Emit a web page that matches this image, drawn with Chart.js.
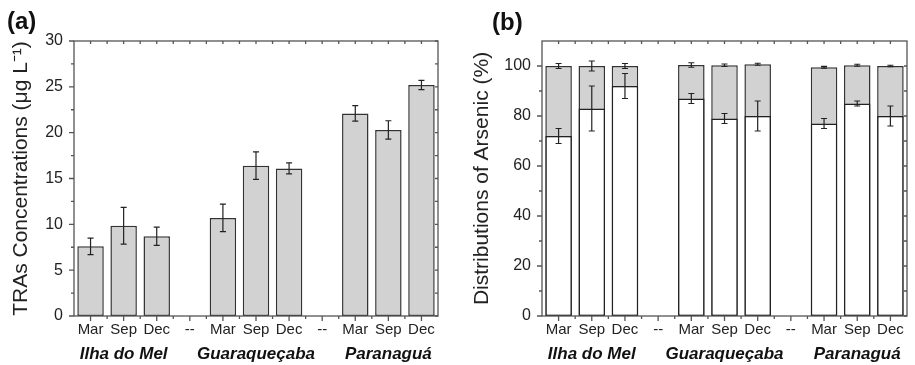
<!DOCTYPE html>
<html><head><meta charset="utf-8">
<script src="https://cdn.jsdelivr.net/npm/chart.js@4"></script>
<style>
html,body{margin:0;padding:0;background:#fff;}
#wrap{position:relative;width:915px;height:365px;overflow:hidden;}
#ca{position:absolute;left:0;top:0;}
#cb{position:absolute;left:455px;top:0;}
</style></head><body>
<div id="wrap"><canvas id="ca" width="455" height="365"></canvas><canvas id="cb" width="460" height="365"></canvas></div>
<script>
// ---- data ----
const months = ['Mar','Sep','Dec','--','Mar','Sep','Dec','--','Mar','Sep','Dec'];
const siteLabels = ['', 'Ilha do Mel', '', '', '', 'Guaraqueçaba', '', '', '', 'Paranaguá', ''];
// panel (a): TRAs concentrations (µg/L) and error
const traValues = [7.6, 9.85, 8.7, null, 10.7, 16.4, 16.1, null, 22.1, 20.3, 25.2];
const traErrors = [0.9, 2.0, 1.0, null, 1.5, 1.5, 0.6, null, 0.85, 1.0, 0.5];
// panel (b): distributions of arsenic (%)
const lowerPct = [72, 83, 92, null, 87, 79, 80, null, 77, 85, 80];
const lowerErr = [3, 9, 5, null, 2, 2, 6, null, 2, 1, 4];
const totalPct = [100, 100, 100, null, 100.4, 100.3, 100.7, null, 99.5, 100.3, 100];
const totalErr = [1, 2, 1, null, 0.9, 0.5, 0.4, null, 0.35, 0.4, 0.3];
const yTitleA = 'TRAs Concentrations (μg L⁻¹)';
const yTitleB = 'Distributions of Arsenic (%)';

const FONT = "'Liberation Sans', Arial, Helvetica, sans-serif";
Chart.defaults.font.family = FONT;
Chart.defaults.color = '#222';

const framePlugin = {
  id: 'frame',
  afterDatasetsDraw(chart) {
    const {ctx, chartArea: a, scales} = chart;
    const x = scales.x, y = scales.y;
    ctx.save();
    ctx.strokeStyle = '#555';
    ctx.lineWidth = 1.3;
    ctx.strokeRect(a.left, a.top, a.right - a.left, a.bottom - a.top);
    ctx.beginPath();
    const majors = y.ticks.map(t => t.value);
    const step = majors[1] - majors[0];
    majors.forEach(v => {
      const py = y.getPixelForValue(v);
      ctx.moveTo(a.left - 5, py); ctx.lineTo(a.left, py);
      ctx.moveTo(a.right, py); ctx.lineTo(a.right - 3, py);
      const m = v + step / 2;
      if (m < y.max - 1e-9) {
        const pm = y.getPixelForValue(m);
        ctx.moveTo(a.left - 3, pm); ctx.lineTo(a.left, pm);
        ctx.moveTo(a.right, pm); ctx.lineTo(a.right - 3, pm);
      }
    });
    for (let i = 0; i < months.length; i++) {
      const pc = x.getPixelForValue(i);
      ctx.moveTo(pc, a.bottom); ctx.lineTo(pc, a.bottom + 5);
      ctx.moveTo(pc, a.top); ctx.lineTo(pc, a.top + 3);
      if (i > 0) {
        const pb = x.getPixelForValue(i - 0.5);
        ctx.moveTo(pb, a.bottom); ctx.lineTo(pb, a.bottom + 3);
        ctx.moveTo(pb, a.top); ctx.lineTo(pb, a.top + 3);
      }
    }
    ctx.stroke();
    ctx.restore();
  }
};

const errorPlugin = {
  id: 'errbars',
  afterDatasetsDraw(chart) {
    const {ctx} = chart;
    const y = chart.scales.y;
    ctx.save();
    ctx.strokeStyle = '#222';
    ctx.lineWidth = 1.2;
    chart.data.datasets.forEach((ds, di) => {
      if (!ds.errors) return;
      const meta = chart.getDatasetMeta(di);
      meta.data.forEach((bar, i) => {
        const v = ds.data[i], e = ds.errors[i];
        if (v == null || e == null) return;
        const xp = bar.x;
        const t = y.getPixelForValue(v + e), b = y.getPixelForValue(v - e);
        ctx.beginPath();
        ctx.moveTo(xp, t); ctx.lineTo(xp, b);
        ctx.moveTo(xp - 3, t); ctx.lineTo(xp + 3, t);
        ctx.moveTo(xp - 3, b); ctx.lineTo(xp + 3, b);
        ctx.stroke();
      });
    });
    ctx.restore();
  }
};

function panelLabel(text, px, py) {
  return {
    id: 'panelLabel',
    afterDraw(chart) {
      const ctx = chart.ctx;
      ctx.save();
      ctx.font = 'bold 24px ' + FONT;
      ctx.fillStyle = '#111';
      ctx.textBaseline = 'alphabetic';
      ctx.fillText(text, px, py);
      ctx.restore();
    }
  };
}

function xScales(stacked) {
  return {
    x: {
      type: 'category', axis: 'x', labels: months, offset: true, stacked: stacked,
      grid: {display: false, drawTicks: false}, border: {display: false},
      ticks: {autoSkip: false, maxRotation: 0, minRotation: 0, font: {size: 15}, color: '#222', padding: 5},
      afterFit(s) { s.height = 24; }
    },
    x2: {
      type: 'category', axis: 'x', position: 'bottom', labels: siteLabels, offset: true,
      grid: {display: false, drawTicks: false}, border: {display: false},
      ticks: {autoSkip: false, maxRotation: 0, minRotation: 0, font: {size: 17, weight: 'bold', style: 'italic'}, color: '#111', padding: 4},
      afterFit(s) { s.height = 25; }
    }
  };
}

const common = {
  responsive: false,
  animation: false,
  devicePixelRatio: 1,
  plugins: {legend: {display: false}, tooltip: {enabled: false}, title: {display: false}},
};

new Chart(document.getElementById('ca'), {
  type: 'bar',
  data: {
    labels: months,
    datasets: [{
      data: traValues, errors: traErrors, xAxisID: 'x', yAxisID: 'y',
      backgroundColor: '#d2d2d2', borderColor: '#333', borderWidth: 1.5, borderSkipped: false,
      barPercentage: 0.8, categoryPercentage: 1.0
    }]
  },
  options: Object.assign({}, common, {
    layout: {padding: {left: 0, right: 17, top: 41, bottom: 0}},
    scales: Object.assign(xScales(false), {
      y: {
        min: 0, max: 30,
        ticks: {stepSize: 5, font: {size: 16}, color: '#222', padding: 11},
        grid: {display: false, drawTicks: false}, border: {display: false},
        title: {display: true, text: yTitleA, font: {size: 21}, color: '#222', padding: {top: 9, bottom: 0}},
        afterFit(s) { s.width = 74; }
      }
    })
  }),
  plugins: [framePlugin, errorPlugin, panelLabel('(a)', 7, 29)]
});

new Chart(document.getElementById('cb'), {
  type: 'bar',
  data: {
    labels: months,
    datasets: [{
      data: lowerPct, errors: lowerErr, xAxisID: 'x', yAxisID: 'y',
      backgroundColor: '#ffffff', borderColor: '#222', borderWidth: 1.5, borderSkipped: false,
      barPercentage: 0.8, categoryPercentage: 1.0
    }, {
      data: totalPct, errors: totalErr, xAxisID: 'x', yAxisID: 'y',
      backgroundColor: '#d2d2d2', borderColor: '#333', borderWidth: 1.5, borderSkipped: false,
      barPercentage: 0.8, categoryPercentage: 1.0
    }]
  },
  options: Object.assign({}, common, {
    layout: {padding: {left: 0, right: 8, top: 41, bottom: 0}},
    scales: Object.assign(xScales(true), {
      y: {
        min: 0, max: 110, stacked: false,
        ticks: {stepSize: 20, includeBounds: false, font: {size: 16}, color: '#222', padding: 11},
        grid: {display: false, drawTicks: false}, border: {display: false},
        title: {display: true, text: yTitleB, font: {size: 21}, color: '#222', padding: {top: 15, bottom: 0}},
        afterFit(s) { s.width = 87; }
      }
    })
  }),
  plugins: [framePlugin, errorPlugin, panelLabel('(b)', 37, 30)]
});
</script>
</body></html>
